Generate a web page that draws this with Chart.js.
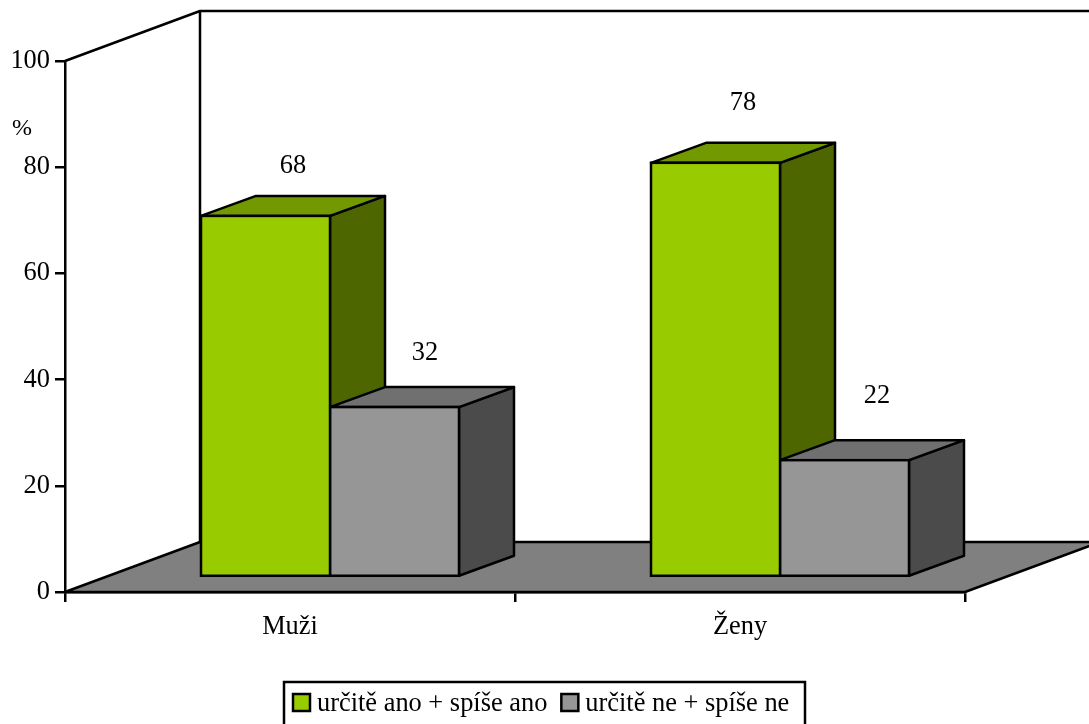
<!DOCTYPE html>
<html>
<head>
<meta charset="utf-8">
<style>
    html, body { margin: 0; padding: 0; background: #fff; overflow: hidden; }
    canvas { display: block; }
</style>
<script src="https://cdn.jsdelivr.net/npm/chart.js@4"></script>
</head>
<body>
<canvas id="chart" width="1089" height="724"></canvas>
<script>
// 数据
const categories = ['Muži', 'Ženy'];
const seriesNames = ['určitě ano + spíše ano', 'určitě ne + spíše ne'];
const anoValues = [68, 78];
const neValues = [32, 22];
const yTicks = [0, 20, 40, 60, 80, 100];
const unitLabel = '%';

const FONT = '"Liberation Serif", "Times New Roman", serif';
const FONT_SIZE = 26.4;
const LINE = 2.5;

// 颜色: 正面, 顶面, 侧面
const faces = [
    { front: '#99cc00', top: '#739900', side: '#4d6600' },
    { front: '#969696', top: '#707070', side: '#4b4b4b' }
];

// 3D 深度
const WALL_DX = 135, WALL_DY = -50;
const BAR_DX = 40, BAR_DY = -15;
const DEPTH_DX = 55, DEPTH_DY = -20;

// 数值标签的微调
const labelNudge = [
    [[0, 1], [0, -9]],
    [[3, -3], [5, -13]]
];

function poly(ctx, pts, fill) {
    ctx.beginPath();
    pts.forEach((p, i) => i ? ctx.lineTo(p[0], p[1]) : ctx.moveTo(p[0], p[1]));
    ctx.closePath();
    if (fill) {
        ctx.fillStyle = fill;
        ctx.fill();
    }
    ctx.stroke();
}

// 背景墙, 地面, 柱子的顶面和侧面
const boxPlugin = {
    id: 'box',
    beforeDatasetsDraw(chart) {
        const { ctx, scales: { x, y } } = chart;
        const y0 = y.getPixelForValue(0), y100 = y.getPixelForValue(100);
        ctx.save();
        ctx.strokeStyle = '#000';
        ctx.lineWidth = LINE;
        ctx.lineJoin = 'round';
        poly(ctx, [
            [x.left, y0],
            [x.right, y0],
            [x.right + WALL_DX, y0 + WALL_DY],
            [x.left + WALL_DX, y0 + WALL_DY]
        ], '#808080');
        ctx.beginPath();
        ctx.moveTo(x.left, y100);
        ctx.lineTo(x.left + WALL_DX, y100 + WALL_DY);
        ctx.lineTo(x.right + WALL_DX, y100 + WALL_DY);
        ctx.moveTo(x.left + WALL_DX, y100 + WALL_DY);
        ctx.lineTo(x.left + WALL_DX, y0 + WALL_DY);
        ctx.stroke();

        // 先画绿色, 灰色盖在上面
        ctx.translate(BAR_DX, BAR_DY);
        chart.data.datasets.forEach((ds, i) => {
            const c = faces[i];
            chart.getDatasetMeta(i).data.forEach(el => {
                const l = el.x - el.width / 2, r = el.x + el.width / 2;
                poly(ctx, [
                    [r, el.y], [r, el.base],
                    [r + DEPTH_DX, el.base + DEPTH_DY], [r + DEPTH_DX, el.y + DEPTH_DY]
                ], c.side);
                poly(ctx, [
                    [l, el.y], [r, el.y],
                    [r + DEPTH_DX, el.y + DEPTH_DY], [l + DEPTH_DX, el.y + DEPTH_DY]
                ], c.top);
            });
        });
        ctx.restore();
    },
    // 正面由 Chart.js 自己画, 只需要平移
    beforeDatasetDraw(chart) {
        chart.ctx.save();
        chart.ctx.translate(BAR_DX, BAR_DY);
    },
    afterDatasetDraw(chart, args) {
        const { ctx } = chart;
        ctx.strokeStyle = '#000';
        ctx.lineWidth = LINE;
        args.meta.data.forEach(el => {
            ctx.strokeRect(el.x - el.width / 2, el.y, el.width, el.base - el.y);
        });
        ctx.restore();
    }
};

// 数值, 单位和图例
const labelPlugin = {
    id: 'labels',
    afterDraw(chart) {
        const { ctx } = chart;
        ctx.save();
        ctx.fillStyle = '#000';
        ctx.textAlign = 'center';
        ctx.textBaseline = 'middle';
        ctx.font = FONT_SIZE + 'px ' + FONT;
        chart.data.datasets.forEach((ds, i) => {
            chart.getDatasetMeta(i).data.forEach((el, j) => {
                const n = labelNudge[i][j];
                ctx.fillText(ds.data[j], el.x + BAR_DX + DEPTH_DX / 2 + n[0], el.y + BAR_DY + DEPTH_DY - 31 + n[1]);
            });
        });
        ctx.font = '24px ' + FONT;
        ctx.fillText(unitLabel, 22, 129);

        // 图例
        ctx.textAlign = 'left';
        ctx.font = FONT_SIZE + 'px ' + FONT;
        ctx.strokeStyle = '#000';
        ctx.lineWidth = LINE;
        ctx.strokeRect(284, 682, 521, 44);
        let lx = 293;
        chart.data.datasets.forEach(ds => {
            ctx.fillStyle = ds.backgroundColor;
            ctx.fillRect(lx, 694, 17, 17);
            ctx.strokeRect(lx, 694, 17, 17);
            ctx.fillStyle = '#000';
            ctx.fillText(ds.label, lx + 24, 704);
            lx += 24 + ctx.measureText(ds.label).width + 14;
        });
        ctx.restore();
    }
};

new Chart(document.getElementById('chart'), {
    type: 'bar',
    data: {
        labels: categories,
        datasets: [
            { label: seriesNames[0], data: anoValues, backgroundColor: faces[0].front },
            { label: seriesNames[1], data: neValues, backgroundColor: faces[1].front }
        ]
    },
    options: {
        responsive: false,
        animation: false,
        layout: { padding: { left: 0, right: 124, top: 61, bottom: 0 } },
        datasets: {
            bar: {
                categoryPercentage: 0.5733,
                barPercentage: 1,
                borderWidth: 0,
                clip: false
            }
        },
        plugins: {
            legend: { display: false },
            tooltip: { enabled: false }
        },
        scales: {
            x: {
                afterFit(scale) { scale.height = 132; },
                grid: { drawOnChartArea: false, color: '#000', lineWidth: LINE, tickLength: 10, tickColor: '#000' },
                border: { color: '#000', width: LINE },
                ticks: { color: '#000', padding: 9, maxRotation: 0, font: { family: FONT, size: FONT_SIZE } }
            },
            y: {
                min: 0,
                max: 100,
                afterFit(scale) { scale.width = 65; },
                afterBuildTicks(scale) { scale.ticks = yTicks.map(v => ({ value: v })); },
                grid: { drawOnChartArea: false, color: '#000', lineWidth: LINE, tickLength: 10, tickColor: '#000' },
                border: { color: '#000', width: LINE },
                ticks: { color: '#000', padding: 5, font: { family: FONT, size: FONT_SIZE } }
            }
        }
    },
    plugins: [boxPlugin, labelPlugin]
});
</script>
</body>
</html>
